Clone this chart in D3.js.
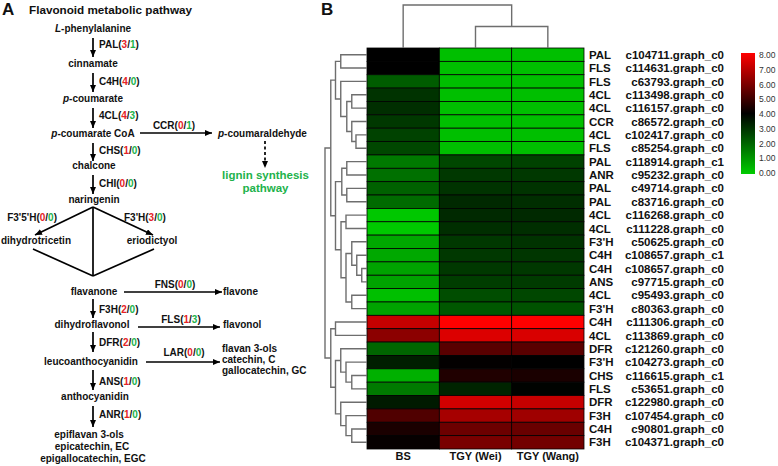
<!DOCTYPE html>
<html>
<head>
<meta charset="utf-8">
<script src="https://cdn.jsdelivr.net/npm/d3@7"></script>
<style>
body { margin: 0; background: #fff; }
svg { display: block; font-family: Arial, "Liberation Sans", sans-serif; }
</style>
</head>
<body>
<div id="chart"></div>
<script>
// heatmap rows (top to bottom)
var genes = ["PAL","FLS","FLS","4CL","4CL","CCR","4CL","FLS","PAL","ANR",
             "PAL","PAL","4CL","4CL","F3'H","C4H","C4H","ANS","4CL","F3'H",
             "C4H","4CL","DFR","F3'H","CHS","FLS","DFR","F3H","C4H","F3H"];
var geneIds = ["c104711.graph_c0","c114631.graph_c0","c63793.graph_c0","c113498.graph_c0","c116157.graph_c0",
               "c86572.graph_c0","c102417.graph_c0","c85254.graph_c0","c118914.graph_c1","c95232.graph_c0",
               "c49714.graph_c0","c83716.graph_c0","c116268.graph_c0","c111228.graph_c0","c50625.graph_c0",
               "c108657.graph_c1","c108657.graph_c0","c97715.graph_c0","c95493.graph_c0","c80363.graph_c0",
               "c111306.graph_c0","c113869.graph_c0","c121260.graph_c0","c104273.graph_c0","c116615.graph_c1",
               "c53651.graph_c0","c122980.graph_c0","c107454.graph_c0","c90801.graph_c0","c104371.graph_c0"];
var samples = ["BS", "TGY (Wei)", "TGY (Wang)"];
var bsValues   = [4.0, 4.0, 2.2, 3.0, 3.1, 2.9, 2.7, 2.6, 1.6, 1.8,
                  2.1, 1.9, 0.1, 0.05, 0.7, 0.7, 0.8, 0.8, 0.25, 0.8,
                  7.1, 6.2, 2.0, 3.4, 0.55, 1.6, 3.5, 5.25, 4.4, 4.1];
var weiValues  = [0.25, 0.25, 0.25, 0.25, 0.25, 0.25, 0.25, 0.25, 2.6, 2.9,
                  3.0, 3.2, 3.2, 3.1, 2.9, 2.9, 2.9, 2.8, 2.5, 2.3,
                  8.0, 7.45, 5.4, 4.05, 4.5, 3.3, 7.3, 6.6, 5.7, 5.9];
var wangValues = [0.25, 0.25, 0.25, 0.25, 0.25, 0.25, 0.25, 0.25, 2.7, 2.9,
                  3.0, 3.1, 3.2, 3.1, 3.0, 2.95, 2.9, 2.85, 2.6, 2.4,
                  8.0, 7.4, 5.4, 4.0, 4.4, 3.95, 7.1, 6.5, 5.65, 5.8];
var legendTicks = [0, 1, 2, 3, 4, 5, 6, 7, 8];

// clustering trees: [height, left, right], leaves are row / column indices
var rowTree = [8.0,
  [6.9,
    [6.0, [5.0, 0, 1], [5.0, 2, [3.85, [2.9, 3, 4], [2.9, 5, [2.1, 6, 7]]]]],
    [6.0, [4.8, [3.85, 8, 9], [3.85, 10, 11]],
          [4.95, [4.0, 12, 13], [4.0, [2.9, 14, [1.95, 15, [1.0, 16, 17]]], [2.9, 18, 19]]]]],
  [6.9, [6.0, 20, 21],
        [6.0, [5.0, 22, [4.0, 23, [2.9, 24, 25]]], [5.0, 26, [4.0, 27, [2.9, 28, 29]]]]]];
var colTree = [2.0, 0, [1.0, 1, 2]];

var width = 778, height = 466;
var svg = d3.select("#chart").append("svg")
    .attr("width", width)
    .attr("height", height);
svg.append("rect").attr("width", width).attr("height", height).attr("fill", "#fff");

var RED = "#e52226", GREEN = "#21b24b";

// ---------------- panel A : pathway ----------------
var defs = svg.append("defs");
defs.append("marker")
    .attr("id", "head")
    .attr("markerUnits", "userSpaceOnUse")
    .attr("markerWidth", 7).attr("markerHeight", 6)
    .attr("refX", 7).attr("refY", 3)
    .attr("orient", "auto")
    .append("path").attr("d", "M0,0L7,3L0,6Z").attr("fill", "#000");

var pa = svg.append("g").attr("font-weight", "bold").attr("fill", "#111");

pa.append("text").attr("x", 2).attr("y", 15).attr("font-size", 17).text("A");
pa.append("text").attr("x", 29).attr("y", 14).attr("font-size", 11.7).text("Flavonoid metabolic pathway");

function label(x, y, parts, anchor, size, fill) {
    var t = pa.append("text").attr("x", x).attr("y", y)
        .attr("font-size", size || 10)
        .attr("text-anchor", anchor || "middle");
    if (fill) t.attr("fill", fill);
    parts.forEach(function(p) {
        if (typeof p === "string") p = [p];
        var s = t.append("tspan").text(p[0]);
        if (p[1] === "i") s.attr("font-style", "italic");
        if (p[1] === "r") s.attr("fill", RED);
        if (p[1] === "g") s.attr("fill", GREEN);
    });
}
function enzyme(x, y, name, up, down, anchor) {
    label(x, y, [name + "(", [up, "r"], "/", [down, "g"], ")"], anchor || "start");
}
function arrow(x1, y1, x2, y2, head, dash) {
    var l = pa.append("line")
        .attr("x1", x1).attr("y1", y1).attr("x2", x2).attr("y2", y2)
        .attr("stroke", "#000").attr("stroke-width", 1.7);
    if (head !== false) l.attr("marker-end", "url(#head)");
    if (dash) l.attr("stroke-dasharray", dash);
}

// compounds
label(93, 32, [["L", "i"], "-phenylalanine"]);
label(93, 67, ["cinnamate"]);
label(93, 102, [["p", "i"], "-coumarate"]);
label(93, 137, [["p", "i"], "-coumarate CoA"]);
label(94, 169, ["chalcone"]);
label(94, 203, ["naringenin"]);
label(36, 244, ["dihydrotricetin"]);
label(152, 244, ["eriodictyol"]);
label(94, 295, ["flavanone"]);
label(92, 328, ["dihydroflavonol"]);
label(91, 365, ["leucoanthocyanidin"]);
label(95, 400, ["anthocyanidin"]);
label(89, 438, ["epiflavan 3-ols"]);
label(92, 450, ["epicatechin, EC"]);
label(93, 462, ["epigallocatechin, EGC"]);
label(218, 137, [["p", "i"], "-coumaraldehyde"], "start");
label(223, 295, ["flavone"], "start");
label(223, 328, ["flavonol"], "start");
label(222, 352, ["flavan 3-ols"], "start");
label(222, 363, ["catechin, C"], "start");
label(222, 374, ["gallocatechin, GC"], "start");
label(265.5, 179, ["lignin synthesis"], "middle", 11.5, GREEN);
label(265.5, 192, ["pathway"], "middle", 11.5, GREEN);

// main vertical steps
arrow(93, 38, 93, 57);   enzyme(99, 47.5, "PAL", "3", "1");
arrow(93, 73, 93, 92);   enzyme(99, 85, "C4H", "4", "0");
arrow(93, 108, 93, 128); enzyme(99, 119, "4CL", "4", "3");
arrow(93, 143, 93, 161); enzyme(99, 153.5, "CHS", "1", "0");
arrow(93, 175, 93, 194); enzyme(99, 187, "CHI", "0", "0");
arrow(93, 299, 93, 318); enzyme(99, 313, "F3H", "2", "0");
arrow(93, 332, 93, 352); enzyme(99, 346, "DFR", "2", "0");
arrow(93, 370, 93, 390); enzyme(99, 385, "ANS", "1", "0");
arrow(93, 406, 93, 427); enzyme(99, 418, "ANR", "1", "0");

// naringenin branches
arrow(93, 207, 35, 235);  enzyme(57, 221, "F3'5'H", "0", "0", "end");
arrow(93, 207, 153, 235); enzyme(124, 221, "F3'H", "3", "0");
arrow(93, 207, 93, 276, false);
arrow(33, 249, 93, 276, false);
arrow(154, 249, 93, 276, false);

// side branches
arrow(140, 133, 212, 133); enzyme(174, 129, "CCR", "0", "1", "middle");
arrow(265, 141, 265, 168, true, "3,2.5");
arrow(124, 292, 222, 292); enzyme(175, 288, "FNS", "0", "0", "middle");
arrow(138, 327, 220, 327); enzyme(181, 323, "FLS", "1", "3", "middle");
arrow(146, 362, 220, 362); enzyme(184, 356, "LAR", "0", "0", "middle");

// ---------------- panel B : heatmap ----------------
svg.append("text").attr("x", 321).attr("y", 15)
    .attr("font-size", 17).attr("font-weight", "bold").attr("fill", "#111").text("B");

var rows = d3.range(genes.length);
var cols = [bsValues, weiValues, wangValues];

var x = d3.scaleBand().domain(d3.range(samples.length)).range([367, 584]);
var y = d3.scaleBand().domain(rows).range([48, 449]);
var color = d3.scaleLinear().domain([0, 4, 8]).range(["#00cc00", "#000000", "#ff0000"]);

var cells = [];
cols.forEach(function(vals, c) {
    vals.forEach(function(v, r) { cells.push({ c: c, r: r, v: v }); });
});

svg.append("g").selectAll("rect")
    .data(cells).enter()
    .append("rect")
    .attr("x", function(d) { return x(d.c); })
    .attr("y", function(d) { return y(d.r); })
    .attr("width", x.bandwidth())
    .attr("height", y.bandwidth())
    .attr("fill", function(d) { return color(d.v); })
    .attr("stroke", "#000")
    .attr("stroke-width", 0.8);

// column labels
svg.append("g").selectAll("text")
    .data(samples).enter()
    .append("text")
    .attr("x", function(d, i) { return x(i) + x.bandwidth() / 2; })
    .attr("y", 460)
    .attr("text-anchor", "middle")
    .attr("font-size", 11)
    .attr("font-weight", "bold")
    .attr("fill", "#111")
    .text(function(d) { return d; });

// row labels
var rl = svg.append("g").attr("font-size", 11.5).attr("font-weight", "bold").attr("fill", "#111");
rl.selectAll(".gene")
    .data(genes).enter()
    .append("text").attr("class", "gene")
    .attr("x", 589)
    .attr("y", function(d, i) { return y(i) + y.bandwidth() / 2; })
    .attr("dy", "0.36em")
    .text(function(d) { return d; });
rl.selectAll(".gid")
    .data(geneIds).enter()
    .append("text").attr("class", "gid")
    .attr("x", 724)
    .attr("y", function(d, i) { return y(i) + y.bandwidth() / 2; })
    .attr("dy", "0.36em")
    .attr("text-anchor", "end")
    .text(function(d) { return d; });

// dendrograms
var dx = d3.scaleLinear().domain([0, 8]).range([367, 325]);
var dy = d3.scaleLinear().domain([0, 2]).range([48, 5]);
var dg = svg.append("g").attr("stroke", "#6e6e6e").attr("stroke-width", 1.4).attr("fill", "none");

function rowDendro(node) {
    if (typeof node === "number") return { pos: y(node) + y.bandwidth() / 2, h: 0 };
    var a = rowDendro(node[1]), b = rowDendro(node[2]);
    var xh = dx(node[0]);
    dg.append("path").attr("d",
        "M" + dx(a.h) + "," + a.pos + "H" + xh + "V" + b.pos + "H" + dx(b.h));
    return { pos: (a.pos + b.pos) / 2, h: node[0] };
}
function colDendro(node) {
    if (typeof node === "number") return { pos: x(node) + x.bandwidth() / 2, h: 0 };
    var a = colDendro(node[1]), b = colDendro(node[2]);
    var yh = dy(node[0]);
    dg.append("path").attr("d",
        "M" + a.pos + "," + dy(a.h) + "V" + yh + "H" + b.pos + "V" + dy(b.h));
    return { pos: (a.pos + b.pos) / 2, h: node[0] };
}
rowDendro(rowTree);
colDendro(colTree);

// colour legend
var grad = defs.append("linearGradient").attr("id", "leg")
    .attr("x1", 0).attr("y1", 1).attr("x2", 0).attr("y2", 0);
legendTicks.forEach(function(t) {
    grad.append("stop").attr("offset", t / 8).attr("stop-color", color(t));
});
var ly = d3.scaleLinear().domain([0, 8]).range([173, 55]);
svg.append("rect")
    .attr("x", 741).attr("y", 53).attr("width", 14).attr("height", 121)
    .attr("fill", "url(#leg)");
var lax = svg.append("g")
    .attr("transform", "translate(755,0)")
    .call(d3.axisRight(ly).tickValues(legendTicks).tickFormat(d3.format(".2f")).tickSize(0).tickPadding(4));
lax.select(".domain").remove();
lax.selectAll("text").attr("font-size", 8.5).attr("fill", "#333")
    .attr("font-family", "Arial, 'Liberation Sans', sans-serif");
</script>
</body>
</html>
